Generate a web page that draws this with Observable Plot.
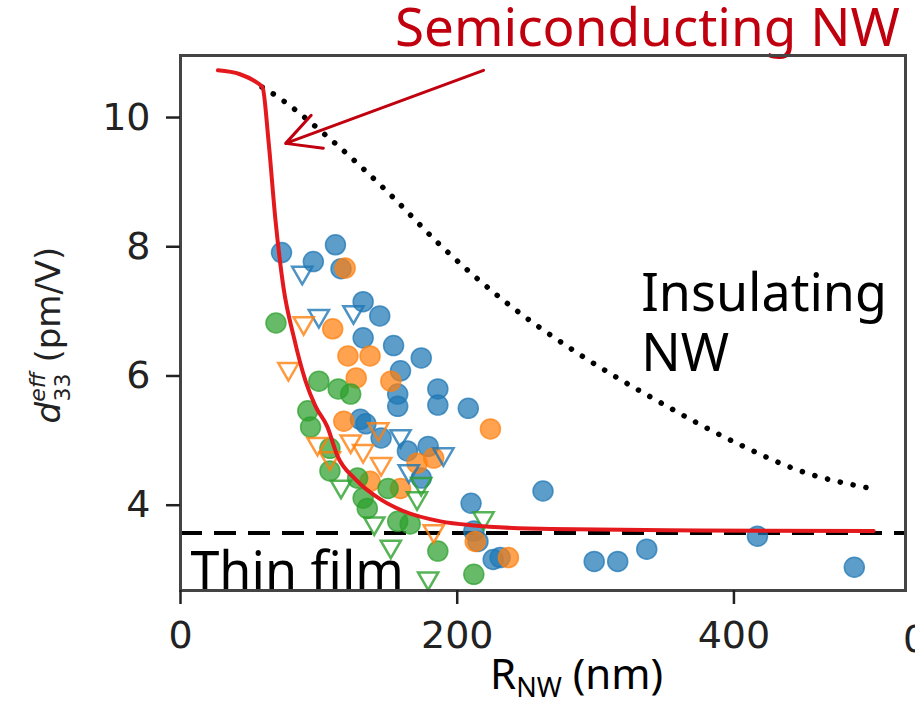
<!DOCTYPE html>
<html><head><meta charset="utf-8">
<script src="https://cdn.jsdelivr.net/npm/d3@7"></script>
<script src="https://cdn.jsdelivr.net/npm/@observablehq/plot@0.6"></script>
<style>body{margin:0;background:#fff} svg{display:block}</style>
</head><body><div id="chart"></div>
<script>
// ---- data (R_NW in nm, d33eff in pm/V) ----
const blueCircleR = [73,96,112,116,132,144,132,154,174,159,157,157,186,186,208,130,145,134,164,179,174,210,262,212,215,231,299,316,337,417,487,226];
const blueCircleD = [7.91,7.77,8.03,7.66,7.15,6.93,6.59,6.47,6.28,6.08,5.72,5.53,5.80,5.55,5.50,5.33,5.04,5.26,4.84,4.91,4.42,4.03,4.22,3.60,3.44,3.19,3.13,3.13,3.32,3.52,3.04,3.16];
const blueTriR = [88,125,100,159,190,165];
const blueTriD = [7.60,6.99,6.93,5.07,4.79,4.53];
const orangeCircleR = [119,110,121,137,127,152,224,118,171,183,159,137,213,237];
const orangeCircleD = [7.67,6.73,6.31,6.31,5.97,5.92,5.18,5.30,4.65,4.73,4.26,4.37,3.44,3.19];
const orangeTriR = [89,78,99,108,132,143,145,183,123];
const orangeTriD = [6.82,6.11,4.95,4.73,4.84,5.18,4.64,3.60,4.99];
const greenCircleR = [69,100,114,123,92,94,108,108,132,150,135,157,166,186,212,128];
const greenCircleD = [6.82,5.92,5.80,5.72,5.46,5.21,4.88,4.53,4.11,4.26,3.95,3.75,3.71,3.29,2.93,4.42];
const greenTriR = [116,140,171,152,179,219,174];
const greenTriD = [4.29,3.72,4.11,3.36,2.87,3.80,4.33];

// model curves
const semiR = [27,43,56,59.3,63.6,68.7,74.5,81.7,90.4,97.6,106,113.5,126.5,144.6,161,188,210,268,376,501];
const semiD = [10.73,10.67,10.53,10.47,9.64,8.40,7.36,6.62,5.92,5.53,5.22,4.76,4.40,4.09,3.91,3.75,3.69,3.63,3.61,3.60];
const insR = [59,63,108,151,188,234,288,341,403,448,499];
const insD = [10.47,10.42,9.67,8.82,8.02,7.16,6.34,5.66,4.95,4.53,4.26];
const thinFilm = 3.57;

// annotations
const arrowFrom = {x: 219, y: 10.73};
const arrowTo = {x: 76, y: 9.60};
const annText = ["Semiconducting NW", "Insulating", "NW", "Thin film"];
const annR = [155, 333, 333, 7.2];
const annD = [11.10, 7.01, 6.08, 2.70];

const xTicks = [0, 200, 400];
const yTicks = [4, 6, 8, 10];

const toPts = (xs, ys) => xs.map((x, i) => ({x, y: ys[i]}));
const C = {blue: "#1f77b4", orange: "#ff7f0e", green: "#2ca02c"};
const circles = (xs, ys, c) => Plot.dot(toPts(xs, ys), {x: "x", y: "y", r: 10, fill: c, fillOpacity: 0.72, stroke: c, strokeOpacity: 0.75, strokeWidth: 1.5});
const tris = (xs, ys, c) => Plot.dot(toPts(xs, ys), {x: "x", y: "y", r: 7.5, symbol: "triangle", rotate: 180, fill: "none", stroke: c, strokeOpacity: 0.8, strokeWidth: 2.5});
const ann = annText.map((t, i) => ({t, x: annR[i], y: annD[i]}));

const chart = Plot.plot({
  width: 915, height: 704,
  marginLeft: 180, marginRight: 10, marginTop: 55, marginBottom: 114,
  x: {domain: [0, 524]},
  y: {domain: [2.68, 10.96]},
  style: {fontFamily: "DejaVu Sans", background: "white", color: "#222"},
  marks: [
    Plot.ruleY([thinFilm], {stroke: "black", strokeWidth: 4, strokeDasharray: "22 12"}),
    Plot.line(toPts(insR, insD), {x: "x", y: "y", curve: "monotone-x", stroke: "black", strokeWidth: 5.5, strokeDasharray: "0.1 13", strokeLinecap: "round"}),
    circles(blueCircleR, blueCircleD, C.blue),
    circles(orangeCircleR, orangeCircleD, C.orange),
    circles(greenCircleR, greenCircleD, C.green),
    tris(blueTriR, blueTriD, C.blue),
    tris(orangeTriR, orangeTriD, C.orange),
    tris(greenTriR, greenTriD, C.green),
    Plot.line(toPts(semiR, semiD), {x: "x", y: "y", curve: "monotone-x", stroke: "#e3191e", strokeWidth: 4}),
    Plot.arrow([{x1: arrowFrom.x, y1: arrowFrom.y, x2: arrowTo.x, y2: arrowTo.y}], {x1: "x1", y1: "y1", x2: "x2", y2: "y2", stroke: "#c0000e", strokeWidth: 3, headLength: 19, headAngle: 55}),
    Plot.text(ann.slice(0, 1), {x: "x", y: "y", text: "t", textAnchor: "start", lineAnchor: "bottom", fontSize: 53, fill: "#c0000e", fontFamily: "Noto Sans"}),
    Plot.text(ann.slice(1), {x: "x", y: "y", text: "t", textAnchor: "start", lineAnchor: "bottom", fontSize: 52, fill: "black", fontFamily: "Noto Sans"}),
    Plot.frame({stroke: "#444", strokeWidth: 3}),
    Plot.axisX({ticks: xTicks, tickSize: 14, tickPadding: 17, fontSize: 38, strokeWidth: 2.5, label: null}),
    Plot.axisY({ticks: yTicks, tickSize: 14, tickPadding: 16, fontSize: 38, strokeWidth: 2.5, label: null})
  ]
});
document.getElementById("chart").appendChild(chart);

const svg = d3.select(chart);
// partially visible neighbouring tick label at right edge
svg.append("text").attr("x", 903).attr("y", 652).attr("text-anchor", "start").attr("font-family", "DejaVu Sans").attr("font-size", 38).attr("fill", "#222").text("0");
// x axis label
const xl = svg.append("text").attr("x", 490).attr("y", 689).attr("text-anchor", "start").attr("font-family", "Noto Sans").attr("font-size", 42).attr("fill", "black");
xl.append("tspan").text("R");
xl.append("tspan").attr("font-size", 27).attr("dy", 8).text("NW");
xl.append("tspan").attr("dy", -8).text(" (nm)");
// y axis label
const yl = svg.append("text").attr("transform", "translate(60,335) rotate(-90)").attr("text-anchor", "middle").attr("font-family", "DejaVu Sans").attr("font-size", 34).attr("fill", "#222");
yl.append("tspan").attr("font-style", "italic").text("d");
yl.append("tspan").attr("font-style", "italic").attr("font-size", 22).attr("dy", -15).text("eff");
yl.append("tspan").attr("font-size", 22).attr("dx", -29).attr("dy", 25).text("33");
yl.append("tspan").attr("dy", -10).text(" (pm/V)");
</script></body></html>
